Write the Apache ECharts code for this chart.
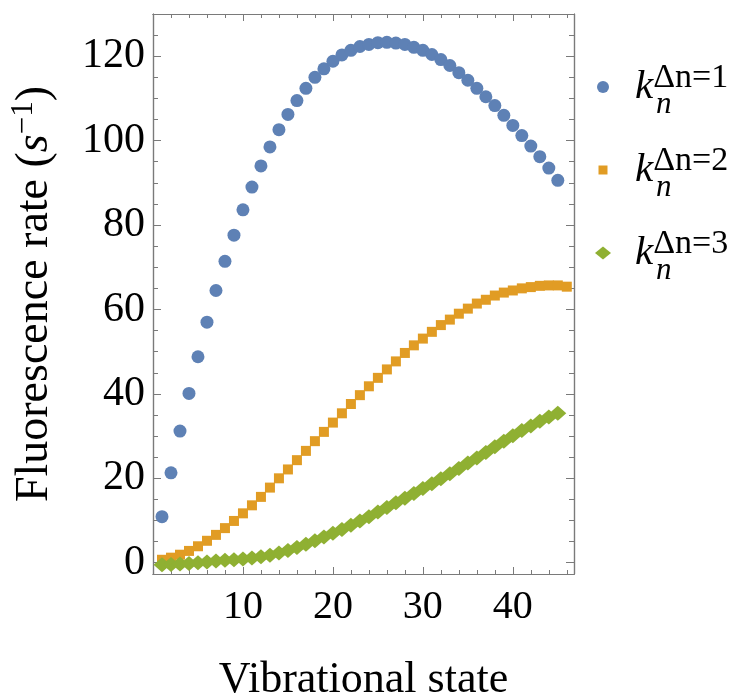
<!DOCTYPE html>
<html><head><meta charset="utf-8">
<script src="https://cdn.jsdelivr.net/npm/echarts@6/dist/echarts.min.js"></script>
<style>html,body{margin:0;padding:0;background:#fff}#c{width:734px;height:697px}</style>
</head><body><div id="c"></div>
<script>
// ---- data ----
const statesK1 = [1,2,3,4,5,6,7,8,9,10,11,12,13,14,15,16,17,18,19,20,21,22,23,24,25,26,27,28,29,30,31,32,33,34,35,36,37,38,39,40,41,42,43,44,45];
const rateK1 = [10.9,21.3,31.2,40.1,48.8,57.0,64.5,71.4,77.6,83.6,89.0,94.0,98.5,102.6,106.2,109.5,112.4,115.0,117.0,118.8,120.3,121.4,122.3,122.8,123.2,123.3,123.1,122.8,122.1,121.4,120.4,119.2,117.8,116.1,114.3,112.4,110.4,108.3,106.0,103.6,101.2,98.7,96.2,93.5,90.6];
const statesK2 = [1,2,3,4,5,6,7,8,9,10,11,12,13,14,15,16,17,18,19,20,21,22,23,24,25,26,27,28,29,30,31,32,33,34,35,36,37,38,39,40,41,42,43,44,45,46];
const rateK2 = [0.7,1.2,1.9,2.8,3.9,5.2,6.6,8.2,9.9,11.7,13.6,15.6,17.8,20.0,22.1,24.3,26.5,28.8,31.0,33.2,35.4,37.6,39.7,41.8,43.8,45.8,47.7,49.7,51.5,53.1,54.7,56.3,57.6,59.0,60.2,61.4,62.3,63.3,64.0,64.5,65.0,65.3,65.6,65.7,65.7,65.4];
const statesK3 = [1,2,3,4,5,6,7,8,9,10,11,12,13,14,15,16,17,18,19,20,21,22,23,24,25,26,27,28,29,30,31,32,33,34,35,36,37,38,39,40,41,42,43,44,45];
const rateK3 = [-0.5,-0.4,-0.3,-0.2,0.0,0.2,0.4,0.6,0.7,0.9,1.1,1.4,1.8,2.3,2.9,3.6,4.4,5.2,6.1,7.0,7.9,8.9,9.9,10.9,12.0,13.1,14.2,15.3,16.4,17.6,18.7,19.9,21.1,22.3,23.6,24.8,26.1,27.5,28.8,30.1,31.3,32.4,33.5,34.5,35.4];
const seriesNames = ['Δn=1','Δn=2','Δn=3'];
const xTickLabels = [10,20,30,40];
const yTickLabels = [0,20,40,60,80,100,120];
const xTitle = 'Vibrational state';
const yTitleParts = ['Fluorescence rate (', 's', '−1', ')'];

// ---- styling / layout ----
const X_MIN = 0, X_MAX = 46.8, Y_MIN = -2.67, Y_MAX = 130;
const FONT = 'Liberation Serif';
const FRAME = '#7a7a7a';
const colors = ['#5E81B5', '#E19C24', '#8FB032'];
const symbols = ['circle', 'rect', 'diamond'];
const symbolSizes = [13, 10, [17, 15]];
const legendCenters = [85, 168, 251];
const legendIconW = [12, 9, 16];
const legendIconH = [12, 9, 13];

function pairs(xs, ys) { return xs.map((x, i) => [x, ys[i]]); }

const chart = echarts.init(document.getElementById('c'), null, {renderer: 'canvas'});

function xAxisDef(position, interval, tickLen, isMain) {
  return {
    type: 'value', position: position, min: X_MIN, max: X_MAX, interval: interval,
    axisLine: {show: true, onZero: false, lineStyle: {color: FRAME, width: 1.2}},
    axisTick: {show: true, inside: true, length: tickLen, lineStyle: {color: FRAME, width: 1}},
    axisLabel: (isMain && position === 'bottom') ? {
      show: true, fontFamily: FONT, fontSize: 40, color: '#000', margin: 13,
      showMinLabel: false, showMaxLabel: false,
      formatter: v => xTickLabels.indexOf(v) >= 0 ? String(v) : ''
    } : {show: false},
    splitLine: {show: false},
    name: (isMain && position === 'bottom') ? xTitle : '',
    nameLocation: 'middle', nameGap: 84,
    nameTextStyle: {fontFamily: FONT, fontSize: 44, color: '#000'}
  };
}
function yAxisDef(position, step, tickLen, isMain) {
  const d = {
    type: 'value', position: position, min: Y_MIN, max: Y_MAX,
    minInterval: step, maxInterval: step, splitNumber: Math.round((Y_MAX - Y_MIN) / step),
    axisLine: {show: true, onZero: false, lineStyle: {color: FRAME, width: 1.2}},
    axisTick: {show: true, inside: true, length: tickLen, lineStyle: {color: FRAME, width: 1}},
    axisLabel: (isMain && position === 'left') ? {
      show: true, fontFamily: FONT, fontSize: 42, color: '#000', margin: 8,
      showMinLabel: false, showMaxLabel: false,
      formatter: v => yTickLabels.indexOf(v) >= 0 ? String(v) : ''
    } : {show: false},
    splitLine: {show: false}
  };
  if (isMain && position === 'left') {
    d.name = '{a|' + yTitleParts[0] + '}{i|' + yTitleParts[1] + '}{sup|' + yTitleParts[2] + '}{a|' + yTitleParts[3] + '}';
    d.nameLocation = 'middle';
    d.nameGap = 95;
    d.nameTextStyle = {
      fontFamily: FONT, fontSize: 46, color: '#000',
      rich: {
        a: {fontFamily: FONT, fontSize: 46, color: '#000', lineHeight: 46},
        i: {fontFamily: FONT, fontSize: 46, fontStyle: 'italic', color: '#000', lineHeight: 46},
        sup: {fontFamily: FONT, fontSize: 31, color: '#000', lineHeight: 31, padding: [0, 0, 22, 0]}
      }
    };
  }
  return d;
}

const legends = seriesNames.map((nm, i) => ({
  data: [nm], orient: 'vertical', selectedMode: false, padding: 0, itemGap: 0,
  left: 603 - legendIconW[i] / 2, top: legendCenters[i] - 24,
  itemWidth: legendIconW[i], itemHeight: legendIconH[i],
  formatter: n => '{k|k}{sup|' + n + '}',
  textStyle: {
    fontFamily: FONT, color: '#000',
    rich: {
      k: {fontFamily: FONT, fontSize: 41, fontStyle: 'italic', color: '#000', lineHeight: 40,
          padding: [0, 0, 0, 635 - (603 + legendIconW[i] / 2 + 5)]},
      sup: {fontFamily: FONT, fontSize: 34, color: '#000', lineHeight: 30, padding: [0, 0, 18, 0]}
    }
  }
}));

const subscripts = legendCenters.map(c => ({
  type: 'text', left: 656, top: c + 4,
  style: {text: 'n', font: 'italic 31px "Liberation Serif"', fill: '#000'}
}));

const option = {
  animation: false,
  backgroundColor: '#fff',
  grid: {left: 153, top: 14, width: 421, height: 560, containLabel: false, outerBoundsMode: 'none'},
  xAxis: [
    xAxisDef('bottom', 10, 7, true),
    xAxisDef('bottom', 2, 4, false),
    xAxisDef('top', 10, 7, true),
    xAxisDef('top', 2, 4, false)
  ],
  yAxis: [
    yAxisDef('left', 20, 8, true),
    yAxisDef('left', 5, 5, false),
    yAxisDef('right', 20, 8, true),
    yAxisDef('right', 5, 5, false)
  ],
  legend: legends,
  graphic: subscripts,
  series: [
    {name: seriesNames[0], type: 'scatter', data: pairs(statesK1, rateK1)},
    {name: seriesNames[1], type: 'scatter', data: pairs(statesK2, rateK2)},
    {name: seriesNames[2], type: 'scatter', data: pairs(statesK3, rateK3)}
  ].map((s, i) => Object.assign(s, {
    xAxisIndex: 0, yAxisIndex: 0, symbol: symbols[i], symbolSize: symbolSizes[i],
    itemStyle: {color: colors[i], opacity: 1}, emphasis: {disabled: true}
  }))
};
chart.setOption(option);
</script>
</body></html>
